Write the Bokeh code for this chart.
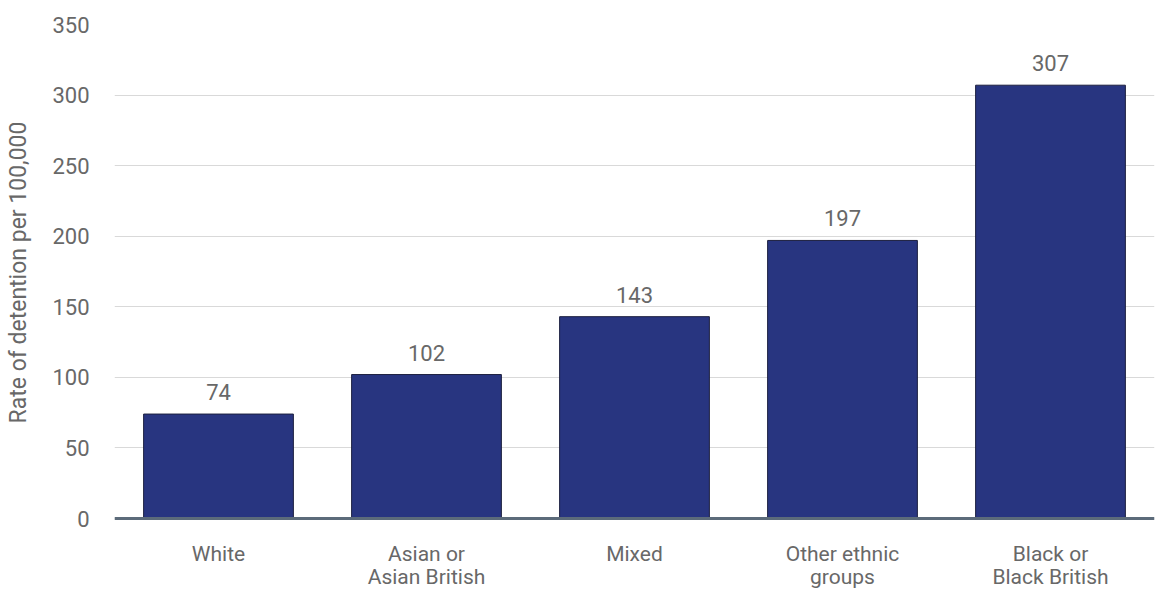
from bokeh.plotting import figure
from bokeh.layouts import column
from bokeh.models import ColumnDataSource, Range1d, FactorRange, FixedTicker, Span
from bokeh.core.properties import value
from bokeh.embed import file_html
from bokeh.resources import INLINE

categories = ["White", "Asian or\nAsian British", "Mixed", "Other ethnic\ngroups", "Black or\nBlack British"]
rates = [74, 102, 143, 197, 307]
rate_labels = ["74", "102", "143", "197", "307"]
y_ticks = [0, 50, 100, 150, 200, 250, 300, 350]
y_title = "Rate of detention per 100,000"

FONT = "Roboto"
TXT = "#686868"

src = ColumnDataSource(dict(cat=categories, rate=rates, lab=rate_labels,
                            base=[0] * len(rates), top=[1] * len(rates)))

xr = FactorRange(*categories, range_padding=0.0, factor_padding=0.0)

# main chart
p = figure(width=1158, height=534, x_range=xr,
           y_range=Range1d(-350 * 2 / 494, 350), output_backend="svg", toolbar_location=None,
           min_border_left=114, min_border_right=4, min_border_top=24, min_border_bottom=14)
p.outline_line_color = None
p.background_fill_color = "white"
p.border_fill_color = "white"

p.vbar(x="cat", top="rate", bottom="base", width=0.72, source=src, fill_color="#283580",
       line_color="#1c1f3f", line_width=1)
p.text(x="cat", y="rate", text="lab", source=src, text_align="center",
       text_baseline="alphabetic", y_offset=-22, text_font=value(FONT),
       text_font_size="22px", text_color=TXT)

p.add_layout(Span(location=0, dimension="width", line_color="#5c6b7a", line_width=3))

p.xaxis.visible = False

p.yaxis.ticker = FixedTicker(ticks=y_ticks)
p.yaxis.axis_line_color = None
p.yaxis.major_tick_line_color = None
p.yaxis.minor_tick_line_color = None
p.yaxis.major_label_text_font = FONT
p.yaxis.major_label_text_font_size = "22px"
p.yaxis.major_label_text_color = TXT
p.yaxis.major_label_standoff = 19
p.yaxis.axis_label = y_title
p.yaxis.axis_label_text_font = FONT
p.yaxis.axis_label_text_font_size = "23px"
p.yaxis.axis_label_text_font_style = "normal"
p.yaxis.axis_label_text_color = TXT
p.yaxis.axis_label_standoff = 17

p.xgrid.grid_line_color = None
p.ygrid.grid_line_color = "#d9d9d9"
p.ygrid.grid_line_width = 1

# category labels strip
p2 = figure(width=1158, height=56, x_range=xr, y_range=Range1d(0, 1),
            output_backend="svg", toolbar_location=None,
            x_axis_location=None, y_axis_location=None,
            min_border_left=114, min_border_right=4, min_border_top=0, min_border_bottom=0)
p2.outline_line_color = None
p2.background_fill_color = "white"
p2.border_fill_color = "white"
p2.grid.visible = False
p2.text(x="cat", y="top", text="cat", source=src, text_align="center",
        text_baseline="top", y_offset=7, text_font=value(FONT), text_line_height=0.97,
        text_font_size="21px", text_color=TXT)

layout = column(p, p2, spacing=0)
open("out.html", "w").write(file_html(layout, INLINE))
